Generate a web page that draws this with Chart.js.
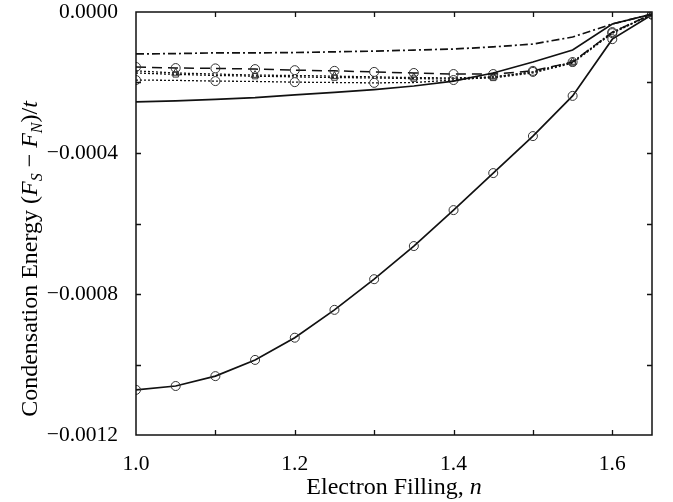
<!DOCTYPE html>
<html>
<head>
<meta charset="utf-8">
<script src="https://cdn.jsdelivr.net/npm/chart.js@4.4.0/dist/chart.umd.min.js"></script>
<style>
  html, body { margin: 0; padding: 0; background: #fff; }
  #wrap { width: 673px; height: 502px; }
</style>
</head>
<body>
<div id="wrap"><canvas id="c" width="673" height="502"></canvas></div>
<script>
// Electron filling n
const filling = [1.00, 1.05, 1.10, 1.15, 1.20, 1.25, 1.30, 1.35, 1.40, 1.45, 1.50, 1.55, 1.60, 1.65];

// Condensation energy (F_S - F_N)/t for each curve
const dashDotCurve = [-0.000119, -0.000118, -0.000116, -0.000116, -0.000115, -0.000113, -0.000111,
                      -0.000108, -0.000105, -0.000099, -0.000091, -0.000071, -0.000034, -0.000006];
const solidUpper   = [-0.000255, -0.000252, -0.000248, -0.000243, -0.000235, -0.000228, -0.000220,
                      -0.000210, -0.000196, -0.000173, -0.000142, -0.000108, -0.000034, -0.000006];
const dashedCircle = [-0.000156, -0.000159, -0.000160, -0.000162, -0.000165, -0.000167, -0.000170,
                      -0.000173, -0.000176, -0.000176, -0.000167, -0.000142, -0.000057, -0.000006];
const dotTriangle  = [-0.000167, -0.000173, -0.000176, -0.000179, -0.000180, -0.000182, -0.000184,
                      -0.000186, -0.000187, -0.000184, -0.000170, -0.000142, -0.000057, -0.000006];
const dotSquare    = [-0.000173, -0.000177, -0.000180, -0.000182, -0.000184, -0.000186, -0.000187,
                      -0.000189, -0.000190, -0.000187, -0.000173, -0.000145, -0.000060, -0.000006];
const dotCircle    = [-0.000193, -0.000194, -0.000196, -0.000197, -0.000199, -0.000200, -0.000201,
                      -0.000200, -0.000193, -0.000184, -0.000170, -0.000142, -0.000060, -0.000006];
const solidLower   = [-0.001072, -0.001061, -0.001033, -0.000987, -0.000924, -0.000845, -0.000758,
                      -0.000664, -0.000562, -0.000457, -0.000352, -0.000238, -0.000077, -0.000008];

// Labelled ticks
const xTickLabels = ['1.0', '1.2', '1.4', '1.6'];
const yTickLabels = ['0.0000', '\u22120.0004', '\u22120.0008', '\u22120.0012'];

const SERIF = '"Liberation Serif", "Times New Roman", serif';
const INK = '#111';

const pts = (ys) => filling.map((x, i) => ({ x, y: ys[i] }));
const oddOnly = (r) => (ctx) => (ctx.dataIndex % 2 === 1 ? r : 0);
const evenOnly = (r) => (ctx) => (ctx.dataIndex % 2 === 0 ? r : 0);

function curve(label, ys, opts) {
  return Object.assign({
    label,
    data: pts(ys),
    borderColor: INK,
    borderWidth: 1.5,
    pointRadius: 0,
    pointHoverRadius: 0,
    pointBorderColor: '#333',
    pointBackgroundColor: 'rgba(0,0,0,0)',
    pointBorderWidth: 1,
    tension: 0,
    fill: false
  }, opts);
}

// Inward ticks on all four sides plus the plot frame
const frameTicks = {
  id: 'frameTicks',
  afterDatasetsDraw(chart) {
    const { ctx, chartArea: a, scales } = chart;
    const len = 5;
    ctx.save();
    ctx.strokeStyle = INK;
    ctx.lineWidth = 1.3;
    ctx.beginPath();
    scales.x.ticks.forEach(t => {
      const px = Math.round(scales.x.getPixelForValue(t.value)) + 0.5;
      if (px <= a.left + 1 || px >= a.right - 1) return;
      ctx.moveTo(px, a.bottom); ctx.lineTo(px, a.bottom - len);
      ctx.moveTo(px, a.top); ctx.lineTo(px, a.top + len);
    });
    scales.y.ticks.forEach(t => {
      const py = Math.round(scales.y.getPixelForValue(t.value)) + 0.5;
      if (py <= a.top + 1 || py >= a.bottom - 1) return;
      ctx.moveTo(a.left, py); ctx.lineTo(a.left + len, py);
      ctx.moveTo(a.right, py); ctx.lineTo(a.right - len, py);
    });
    ctx.stroke();
    ctx.lineWidth = 1.5;
    ctx.strokeRect(a.left, a.top, a.right - a.left, a.bottom - a.top);
    ctx.restore();
  }
};

// Axis titles with italic symbols and subscripts
const axisTitles = {
  id: 'axisTitles',
  afterDraw(chart) {
    const { ctx, chartArea: a } = chart;
    const big = 24, small = 16;
    const normal = `${big}px ${SERIF}`;
    const ital = `italic ${big}px ${SERIF}`;
    const sub = `italic ${small}px ${SERIF}`;
    const drawRuns = (runs, x0, y0) => {
      let x = x0;
      runs.forEach(r => {
        ctx.font = r.f;
        ctx.fillText(r.t, x, y0 + (r.dy || 0));
        x += ctx.measureText(r.t).width;
      });
    };
    const widthOf = (runs) => runs.reduce((w, r) => { ctx.font = r.f; return w + ctx.measureText(r.t).width; }, 0);

    ctx.save();
    ctx.fillStyle = '#000';
    ctx.textBaseline = 'alphabetic';
    ctx.textAlign = 'left';

    // x title
    const xRuns = [{ t: 'Electron Filling, ', f: normal }, { t: 'n', f: ital }];
    const xw = widthOf(xRuns);
    drawRuns(xRuns, (a.left + a.right) / 2 - xw / 2, 494);

    // y title
    const yRuns = [
      { t: 'Condensation Energy (', f: normal },
      { t: 'F', f: ital },
      { t: 'S', f: sub, dy: 5 },
      { t: ' \u2212 ', f: normal },
      { t: 'F', f: ital },
      { t: 'N', f: sub, dy: 5 },
      { t: ')/', f: normal },
      { t: 't', f: ital }
    ];
    const yw = widthOf(yRuns);
    ctx.translate(37, 259 + yw / 2);
    ctx.rotate(-Math.PI / 2);
    drawRuns(yRuns, 0, 0);
    ctx.restore();
  }
};

new Chart(document.getElementById('c'), {
  type: 'line',
  data: {
    datasets: [
      curve('dash-dot', dashDotCurve, { borderDash: [8, 3, 2, 3], borderWidth: 1.7 }),
      curve('solid upper', solidUpper, { borderWidth: 1.7 }),
      curve('dashed circles', dashedCircle, { borderDash: [10, 6], pointRadius: 4.5, pointStyle: 'circle' }),
      curve('dotted triangles', dotTriangle, { borderDash: [2, 2], borderWidth: 1.3, pointRadius: oddOnly(4.5), pointStyle: 'triangle' }),
      curve('dotted squares', dotSquare, { borderDash: [2, 2], borderWidth: 1.3, pointRadius: oddOnly(3.8), pointStyle: 'rect' }),
      curve('dotted circles', dotCircle, { borderDash: [2, 2], borderWidth: 1.3, pointRadius: evenOnly(4.5), pointStyle: 'circle' }),
      curve('solid lower', solidLower, { borderWidth: 1.7, pointRadius: 4.5, pointStyle: 'circle' })
    ]
  },
  options: {
    responsive: false,
    animation: false,
    devicePixelRatio: 1,
    layout: { padding: { top: 12, right: 21, left: 0, bottom: 0 } },
    plugins: { legend: { display: false }, tooltip: { enabled: false } },
    scales: {
      x: {
        type: 'linear',
        min: 1.0,
        max: 1.65,
        grid: { display: false, drawTicks: false },
        border: { display: false },
        afterFit: (s) => { s.height = 67; s.paddingLeft = 0; s.paddingRight = 0; },
        ticks: {
          stepSize: 0.1,
          autoSkip: false,
          includeBounds: false,
          maxRotation: 0,
          padding: 16,
          color: '#000',
          font: { family: SERIF, size: 21.5 },
          callback: (v) => {
            const k = Math.round((v - 1.0) / 0.2 * 2);
            return k % 2 === 0 ? (xTickLabels[k / 2] || '') : '';
          }
        }
      },
      y: {
        type: 'linear',
        min: -0.0012,
        max: 0,
        grid: { display: false, drawTicks: false },
        border: { display: false },
        afterFit: (s) => { s.width = 136; s.paddingTop = 0; s.paddingBottom = 0; },
        ticks: {
          stepSize: 0.0002,
          autoSkip: false,
          includeBounds: false,
          padding: 18,
          color: '#000',
          font: { family: SERIF, size: 21.5 },
          callback: (v) => {
            const k = Math.round(-v / 0.0002);
            return k % 2 === 0 ? (yTickLabels[k / 2] || '') : '';
          }
        }
      }
    }
  },
  plugins: [frameTicks, axisTitles]
});
</script>
</body>
</html>
